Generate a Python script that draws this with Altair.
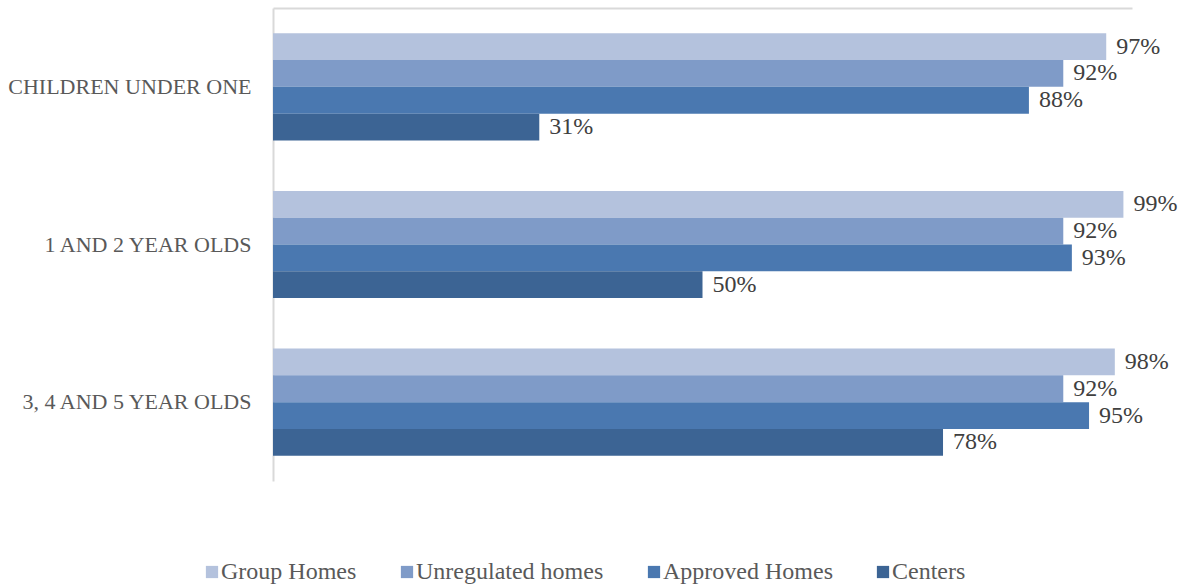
import altair as alt
import pandas as pd

categories = ["CHILDREN UNDER ONE", "1 AND 2 YEAR OLDS", "3, 4 AND 5 YEAR OLDS"]
series = ["Group Homes", "Unregulated homes", "Approved Homes", "Centers"]
group_homes = [97, 99, 98]
unregulated_homes = [92, 92, 92]
approved_homes = [88, 93, 95]
centers = [31, 50, 78]
colors = ["#b4c2dd", "#7f9bc8", "#4a78b0", "#3c6494"]

rows = []
for s, vals in zip(series, [group_homes, unregulated_homes, approved_homes, centers]):
    for c, v in zip(categories, vals):
        rows.append({"category": c, "series": s, "value": v, "label": f"{v}%"})
df = pd.DataFrame(rows)

FONT = "Liberation Serif"

y_enc = alt.Y("category:N", sort=categories, title=None,
              scale=alt.Scale(paddingInner=0.32, paddingOuter=0.16),
              axis=alt.Axis(labelFontSize=22, labelFont=FONT, labelColor="#595959",
                            ticks=False, labelPadding=22, domainColor="#d9d9d9",
                            domainWidth=2, labelLimit=400))
yoff = alt.YOffset("series:N", sort=series)
x_enc = alt.X("value:Q", scale=alt.Scale(domain=[0, 100], nice=False), title=None,
              axis=alt.Axis(orient="top", labels=False, ticks=False, grid=False,
                            domainColor="#d9d9d9", domainWidth=2))

bars = alt.Chart(df).mark_bar().encode(
    y=y_enc, yOffset=yoff, x=x_enc,
    color=alt.Color("series:N", sort=series,
                    scale=alt.Scale(domain=series, range=colors),
                    legend=alt.Legend(title=None, orient="none", direction="horizontal",
                                      legendX=-73, legendY=552, columns=4,
                                      symbolType="square", symbolSize=150,
                                      symbolStrokeWidth=0, labelFontSize=24,
                                      labelFont=FONT, labelColor="#595959",
                                      columnPadding=38, labelOffset=alt.ExprRef(expr="-3"),
                                      labelLimit=500)),
)

text = alt.Chart(df).mark_text(align="left", baseline="middle", dx=10,
                               fontSize=24, font=FONT, color="#404040").encode(
    y=alt.Y("category:N", sort=categories), yOffset=yoff,
    x=alt.X("value:Q"), text="label:N")

chart = (bars + text).properties(
    width=859, height=473,
    autosize=alt.AutoSizeParams(type="none"),
    padding={"left": 273, "top": 8, "right": 46, "bottom": 106},
).configure_view(stroke=None)

chart.save("out.html", embed_options={"renderer": "svg", "actions": False})
